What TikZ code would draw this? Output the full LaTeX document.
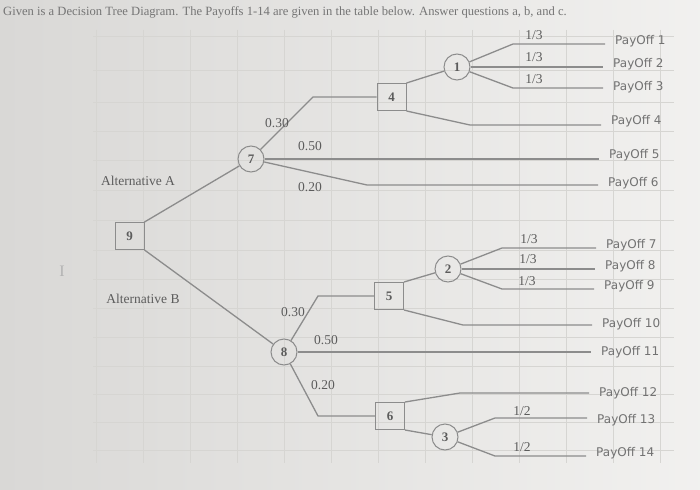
\documentclass[tikz,border=0pt]{standalone}
\usepackage{fontspec}
\setmainfont{Liberation Serif}
\newfontfamily\payfont{DejaVu Sans}
\definecolor{paper}{HTML}{EEEDEB}
\definecolor{paperdark}{HTML}{D9D8D6}
\definecolor{gridgray}{HTML}{D6D5D2}
\definecolor{branchgray}{HTML}{8C8C8C}
\definecolor{ink}{HTML}{5C5C5C}
\definecolor{payink}{HTML}{727272}
\begin{document}
\begin{tikzpicture}[x=1pt,y=-1pt,
  chance/.style={circle, draw=branchgray, line width=1pt, minimum size=26pt, inner sep=0pt, text=ink, font=\fontsize{13}{13}\selectfont\bfseries},
  decision/.style={rectangle, draw=branchgray, line width=1pt, minimum width=29pt, minimum height=27pt, inner sep=0pt, text=ink, font=\fontsize{13}{13}\selectfont\bfseries},
  prob/.style={text=ink, inner sep=0pt, font=\fontsize{13.5}{14}\selectfont},
  payoff/.style={anchor=west, text=payink, inner sep=0pt, font=\payfont\fontsize{12}{12}\selectfont},
  branch/.style={draw=branchgray, line width=1.3pt},
  mainbranch/.style={draw=branchgray, line width=1.8pt},
  toleaf/.style={shorten >=10pt}]
 \useasboundingbox (0,0) rectangle (700,489);
 \shade [left color=paperdark, middle color=paper, right color=paper!80!white] (0,0) rectangle (700,489);
 % spreadsheet grid behind the tree
 \foreach \gx in {96,143,...,661} \draw [gridgray, line width=0.6pt] (\gx,30) -- (\gx,463);
 \foreach \gy in {36,70,102,131,160,190,220,250,279,308,337,366,394,422,450} \draw [gridgray, line width=0.6pt] (93,\gy) -- (674,\gy);

    \node [anchor=west, text=ink!85, inner sep=0pt, font=\fontsize{12.6}{13}\selectfont] (title) at (3,12) {Given is a Decision Tree Diagram. The Payoffs 1-14 are given in the table below. Answer questions a, b, and c.};
    \node [text=black!30, inner sep=0pt, font=\fontsize{16}{16}\selectfont] (cursor) at (62,271) {I};

    \node [decision] (nine) at (129.5,236) {9};
    \node [chance] (seven) at (251,159) {7};
    \node [decision] (four) at (391.5,97) {4};
    \node [chance] (one) at (457,67) {1};
    \node [chance] (eight) at (284,352) {8};
    \node [decision] (five) at (389,296) {5};
    \node [chance] (two) at (448,269) {2};
    \node [decision] (six) at (390,416) {6};
    \node [chance] (three) at (445,437) {3};

    \node [prob] (altA) at (138,181) {Alternative A};
    \node [prob] (altB) at (143,299) {Alternative B};

    \node [payoff] (pay1) at (615,41) {PayOff 1};
    \node [payoff] (pay2) at (613,64) {PayOff 2};
    \node [payoff] (pay3) at (613,87) {PayOff 3};
    \node [payoff] (pay4) at (611,121) {PayOff 4};
    \node [payoff] (pay5) at (609,155) {PayOff 5};
    \node [payoff] (pay6) at (608,183) {PayOff 6};
    \node [payoff] (pay7) at (606,245) {PayOff 7};
    \node [payoff] (pay8) at (605,266) {PayOff 8};
    \node [payoff] (pay9) at (604,286) {PayOff 9};
    \node [payoff] (pay10) at (602,324) {PayOff 10};
    \node [payoff] (pay11) at (601,352) {PayOff 11};
    \node [payoff] (pay12) at (599,393) {PayOff 12};
    \node [payoff] (pay13) at (597,420) {PayOff 13};
    \node [payoff] (pay14) at (596,453) {PayOff 14};

    % corners of the branches
    \coordinate (upfour) at (313,97);
    \coordinate (dnseven) at (367,185);
    \coordinate (dnfour) at (470,125);
    \coordinate (upone) at (513,44);
    \coordinate (dnone) at (513,88);
    \coordinate (upfive) at (318,296);
    \coordinate (upsix) at (318,416);
    \coordinate (dnfive) at (463,325);
    \coordinate (uptwo) at (502,248);
    \coordinate (dntwo) at (502,289);
    \coordinate (uptwelve) at (460,393);
    \coordinate (upthree) at (495,418);
    \coordinate (dnthree) at (495,456);

 \draw [branch] (nine.north east) -- (seven);
 \draw [branch] (nine.south east) -- (eight);

 \draw [branch] (seven) -- (upfour) -- (four);
 \draw [mainbranch, toleaf] (seven) -- (seven -| pay5.west);
 \draw [branch, toleaf] (seven) -- (dnseven) -- (dnseven -| pay6.west);
 \draw [branch] (four.north east) -- (one);
 \draw [branch, toleaf] (four.south east) -- (dnfour) -- (dnfour -| pay4.west);
 \draw [branch, toleaf] (one) -- (upone) -- (upone -| pay1.west);
 \draw [mainbranch, toleaf] (one) -- (one -| pay2.west);
 \draw [branch, toleaf] (one) -- (dnone) -- (dnone -| pay3.west);

 \draw [branch] (eight) -- (upfive) -- (five);
 \draw [mainbranch, toleaf] (eight) -- (eight -| pay11.west);
 \draw [branch] (eight) -- (upsix) -- (six);
 \draw [branch] (five.north east) -- (two);
 \draw [branch, toleaf] (five.south east) -- (dnfive) -- (dnfive -| pay10.west);
 \draw [branch, toleaf] (two) -- (uptwo) -- (uptwo -| pay7.west);
 \draw [mainbranch, toleaf] (two) -- (two -| pay8.west);
 \draw [branch, toleaf] (two) -- (dntwo) -- (dntwo -| pay9.west);
 \draw [branch, toleaf] (six.north east) -- (uptwelve) -- (uptwelve -| pay12.west);
 \draw [branch] (six.south east) -- (three);
 \draw [branch, toleaf] (three) -- (upthree) -- (upthree -| pay13.west);
 \draw [branch, toleaf] (three) -- (dnthree) -- (dnthree -| pay14.west);

    \node [prob] (pa) at (277,123) {0.30};
    \node [prob] (pb) at (310,146) {0.50};
    \node [prob] (pc) at (310,187) {0.20};
    \node [prob] (pd) at (534,35) {1/3};
    \node [prob] (pe) at (534,57) {1/3};
    \node [prob] (pf) at (534,79) {1/3};
    \node [prob] (pg) at (293,312) {0.30};
    \node [prob] (ph) at (326,340) {0.50};
    \node [prob] (pi) at (323,385) {0.20};
    \node [prob] (pj) at (529,239) {1/3};
    \node [prob] (pk) at (528,259) {1/3};
    \node [prob] (pl) at (527,281) {1/3};
    \node [prob] (pm) at (522,411) {1/2};
    \node [prob] (pn) at (522,447) {1/2};
\end{tikzpicture}
\end{document}
